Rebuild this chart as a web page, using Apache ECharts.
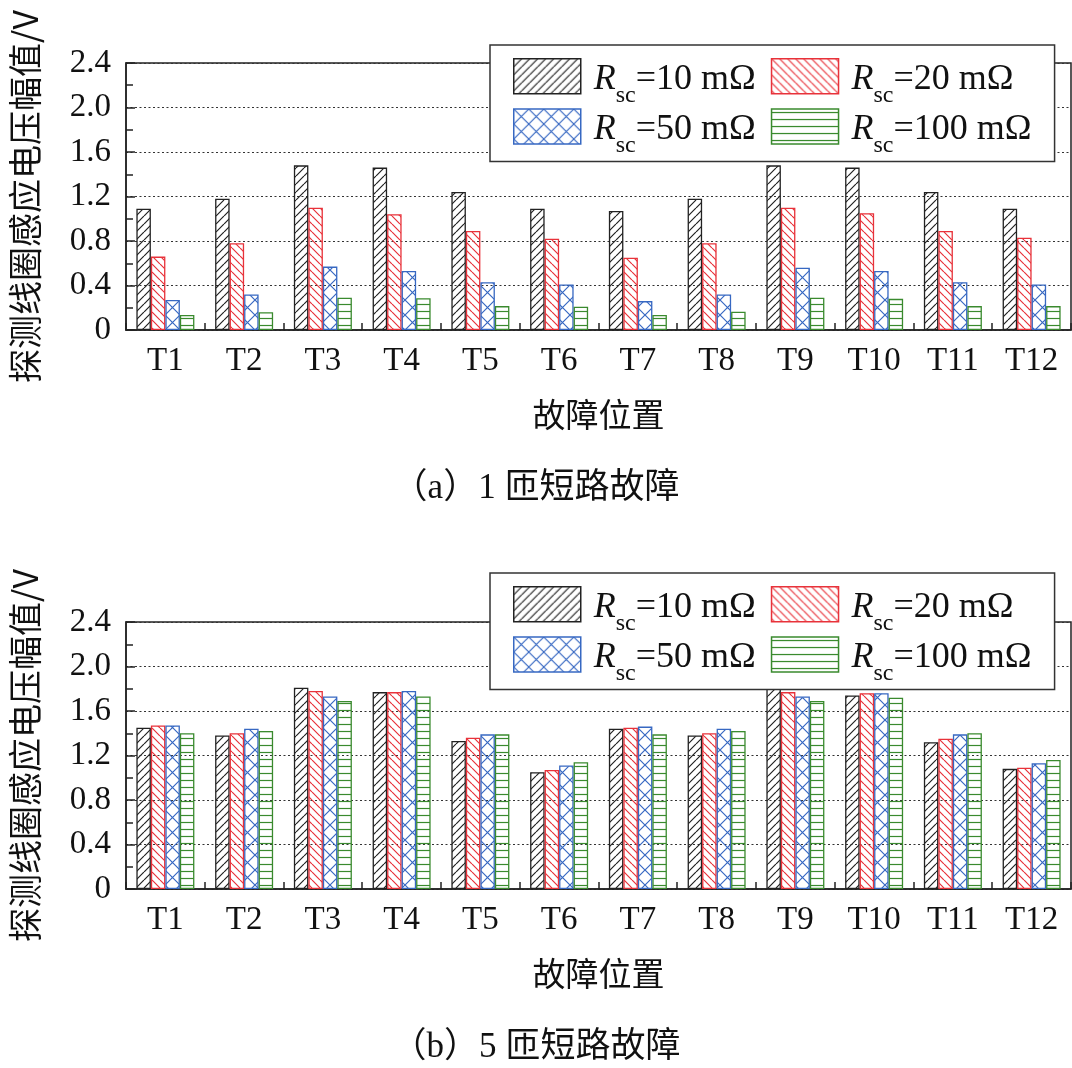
<!DOCTYPE html>
<html><head><meta charset="utf-8">
<script src="https://cdn.jsdelivr.net/npm/echarts@6/dist/echarts.min.js"></script>
<style>html,body{margin:0;padding:0;background:#fff}#c{width:1072px;height:1068px}</style>
</head><body><div id="c"></div>
<script>
const categories = ['T1','T2','T3','T4','T5','T6','T7','T8','T9','T10','T11','T12'];
const seriesNames = ['Rsc=10 mΩ','Rsc=20 mΩ','Rsc=50 mΩ','Rsc=100 mΩ'];

// (a) 1-turn short circuit
const a_R10  = [1.09, 1.18, 1.48, 1.46, 1.24, 1.09, 1.07, 1.18, 1.48, 1.46, 1.24, 1.09];
const a_R20  = [0.66, 0.78, 1.10, 1.04, 0.89, 0.82, 0.65, 0.78, 1.10, 1.05, 0.89, 0.83];
const a_R50  = [0.27, 0.32, 0.57, 0.53, 0.43, 0.41, 0.26, 0.32, 0.56, 0.53, 0.43, 0.41];
const a_R100 = [0.135, 0.16, 0.29, 0.285, 0.215, 0.21, 0.135, 0.165, 0.29, 0.28, 0.215, 0.215];

// (b) 5-turn short circuit
const b_R10  = [1.45, 1.38, 1.81, 1.77, 1.33, 1.05, 1.44, 1.38, 1.80, 1.74, 1.32, 1.08];
const b_R20  = [1.47, 1.40, 1.78, 1.77, 1.36, 1.07, 1.45, 1.40, 1.77, 1.76, 1.35, 1.09];
const b_R50  = [1.47, 1.44, 1.73, 1.78, 1.39, 1.11, 1.46, 1.44, 1.73, 1.76, 1.39, 1.13];
const b_R100 = [1.40, 1.42, 1.69, 1.73, 1.39, 1.14, 1.39, 1.42, 1.69, 1.72, 1.40, 1.16];

const yMin = 0, yMax = 2.4, yInterval = 0.4;
const yAxisName = '探测线圈感应电压幅值/V';
const xAxisName = '故障位置';
const captions = ['（a）1 匝短路故障', '（b）5 匝短路故障'];

const colors = ['#222222', '#e8323a', '#3768c2', '#3a8a2e'];
const kinds = ['fwd', 'back', 'cross', 'h'];

function makePattern(kind, color) {
  const s = kind === 'cross' ? 15 : (kind === 'h' ? 7 : 8);
  const cv = document.createElement('canvas');
  cv.width = s; cv.height = s;
  const g = cv.getContext('2d');
  g.strokeStyle = color; g.lineWidth = 1.2;
  g.beginPath();
  if (kind === 'fwd' || kind === 'cross') {
    for (let k = 0; k <= 2; k++) { g.moveTo(k * s - s, s); g.lineTo(k * s, 0); }
  }
  if (kind === 'back' || kind === 'cross') {
    for (let k = 0; k <= 2; k++) { g.moveTo(k * s - s, 0); g.lineTo(k * s, s); }
  }
  if (kind === 'h') { g.moveTo(0, s / 2); g.lineTo(s, s / 2); }
  g.stroke();
  return { image: cv, repeat: 'repeat' };
}
const patterns = kinds.map((k, i) => makePattern(k, colors[i]));

const chartData = [[a_R10, a_R20, a_R50, a_R100], [b_R10, b_R20, b_R50, b_R100]];
const gridTops = [63, 622];
const legendTops = [45, 573];

const serif = "'Liberation Serif', 'Times New Roman', serif";
const cjk = "'Noto Sans CJK SC', sans-serif";

const rich = {
  i: { fontFamily: serif, fontStyle: 'italic', fontSize: 36, lineHeight: 30, verticalAlign: 'top', color: '#111' },
  s: { fontFamily: serif, fontSize: 24, lineHeight: 14, padding: [22, 0, 0, 0], verticalAlign: 'top', color: '#111' },
  n: { fontFamily: serif, fontSize: 36, lineHeight: 30, verticalAlign: 'top', color: '#111' },
  g: { width: 14, lineHeight: 30, verticalAlign: 'top' }
};

const grids = [], xAxes = [], yAxes = [], series = [], legends = [], graphics = [];
for (let c = 0; c < 2; c++) {
  grids.push({ left: 123, right: 1, top: gridTops[c], height: 267, show: true, borderColor: '#222', borderWidth: 1.5, backgroundColor: 'transparent' });
  xAxes.push({
    type: 'category', gridIndex: c, data: categories,
    axisLine: { lineStyle: { color: '#222', width: 1.5 } },
    axisTick: { show: true, inside: true, length: 7, lineStyle: { color: '#222', width: 1.5 } },
    axisLabel: { fontFamily: serif, fontSize: 33, color: '#111', margin: 15 },
    name: xAxisName, nameLocation: 'middle', nameGap: 68,
    nameTextStyle: { fontFamily: cjk, fontSize: 33, color: '#111' }
  });
  yAxes.push({
    type: 'value', gridIndex: c, min: yMin, max: yMax, interval: yInterval,
    axisLine: { show: true, lineStyle: { color: '#222', width: 1.5 } },
    axisTick: { show: true, inside: true, length: 9, lineStyle: { color: '#222', width: 1.5 } },
    minorTick: { show: true, splitNumber: 2, length: 7, lineStyle: { color: '#222', width: 1.5 } },
    splitLine: { show: true, lineStyle: { type: [2, 2.5], color: '#333', width: 1.2 } },
    axisLabel: { fontFamily: serif, fontSize: 33, color: '#111', margin: 15,
      formatter: v => (v === 0 ? '0' : v.toFixed(1)) },
    name: yAxisName, nameLocation: 'middle', nameGap: 84,
    nameTextStyle: { fontFamily: cjk, fontSize: 34, color: '#111' }
  });
  for (let k = 0; k < 4; k++) {
    series.push({
      type: 'bar', name: seriesNames[k], xAxisIndex: c, yAxisIndex: c,
      data: chartData[c][k], barWidth: 14.5, barGap: '0%',
      itemStyle: { color: patterns[k], borderColor: colors[k], borderWidth: 1.3 },
      emphasis: { disabled: true }, silent: true
    });
  }
  legends.push({
    left: 490, top: legendTops[c], orient: 'horizontal', width: 560,
    icon: 'rect', itemWidth: 67, itemHeight: 35, itemGap: 1,
    padding: [13, 9, 4, 23], backgroundColor: '#fff', borderColor: '#333', borderWidth: 1.5,
    data: seriesNames, selectedMode: false,
    itemStyle: { borderWidth: 1.5 },
    formatter: name => '{i|R}{s|sc}{n|=' + name.replace('Rsc=', '') + '}{g|}',
    textStyle: { rich: rich, padding: [0, 0, 0, 8] }
  });
  graphics.push({
    type: 'text', left: 'center', top: (c === 0 ? 471 : 1030),
    style: { text: captions[c], font: "35px 'Liberation Serif', 'Noto Sans CJK SC'", fill: '#111' }
  });
}

const chart = echarts.init(document.getElementById('c'));
chart.setOption({
  animation: false,
  backgroundColor: '#fff',
  grid: grids, xAxis: xAxes, yAxis: yAxes, series: series, legend: legends, graphic: graphics
});
</script></body></html>
